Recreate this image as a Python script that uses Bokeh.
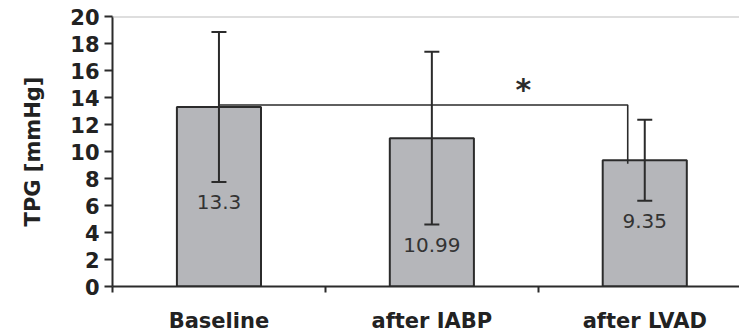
from bokeh.plotting import figure
from bokeh.models import ColumnDataSource, FixedTicker, Span, Range1d
from bokeh.core.properties import value
from bokeh.embed import file_html
from bokeh.resources import INLINE

# TPG per phase: mean and standard deviation
categories = ["Baseline", "after IABP", "after LVAD"]
means = [13.3, 10.99, 9.35]
sd = [5.55, 6.4, 3.0]
mean_labels = ["13.3", "10.99", "9.35"]
y_ticks = [0, 2, 4, 6, 8, 10, 12, 14, 16, 18, 20]

# significance bracket between Baseline and after LVAD
sig_from = 0
sig_to = 2
sig_level = 13.45
sig_drop = 9.1

DARK = "#2b2b2b"
BAR = "#b5b6ba"
FONT = "DejaVu Sans"

xs = list(range(len(categories)))
src = ColumnDataSource(dict(
    x=xs,
    top=means,
    upper=[m + s for m, s in zip(means, sd)],
    lower=[m - s for m, s in zip(means, sd)],
    lab=mean_labels,
))

p = figure(width=739, height=335, output_backend="svg", toolbar_location=None,
           x_range=Range1d(-0.5, 2.445), y_range=Range1d(0, 20))
p.min_border_left = 112
p.min_border_right = 0
p.min_border_top = 16
p.min_border_bottom = 39
p.outline_line_color = None
p.grid.grid_line_color = None
p.background_fill_color = "white"
p.border_fill_color = "white"

p.vbar(x="x", top="top", width=0.395, source=src, fill_color=BAR,
       line_color=DARK, line_width=2)

# error bars: stems and caps
p.segment(x0="x", y0="lower", x1="x", y1="upper", source=src,
          line_color=DARK, line_width=2)
p.scatter(x="x", y="upper", source=src, marker="dash", size=15,
          line_color=DARK, line_width=2)
p.scatter(x="x", y="lower", source=src, marker="dash", size=15,
          line_color=DARK, line_width=2)

p.text(x="x", y="lower", text="lab", source=src, text_align="center",
       text_baseline="top", y_offset=13, text_font=value(FONT),
       text_font_size="20px", text_color="#333333")

# bracket and asterisk
bx = sig_from
ex = sig_to - 0.08
p.line([bx, ex, ex], [sig_level, sig_level, sig_drop], line_color=DARK,
       line_width=1.6)
p.text(x=[(sig_from + sig_to) / 2 + 0.43], y=[sig_level], text=["*"],
       text_align="center", text_baseline="bottom", y_offset=2,
       text_font=value(FONT), text_font_size="30px", text_font_style="bold",
       text_color=DARK)

# top border line
p.add_layout(Span(location=20, dimension="width", line_color="#bdbdbd",
                  line_width=2))

# y axis
p.yaxis.ticker = FixedTicker(ticks=y_ticks)
p.yaxis.axis_line_color = DARK
p.yaxis.axis_line_width = 2
p.yaxis.major_tick_line_color = DARK
p.yaxis.major_tick_line_width = 2
p.yaxis.major_tick_out = 8
p.yaxis.major_tick_in = 0
p.yaxis.minor_tick_line_color = None
p.yaxis.major_label_standoff = 5
p.yaxis.major_label_text_font = FONT
p.yaxis.major_label_text_font_style = "bold"
p.yaxis.major_label_text_font_size = "21px"
p.yaxis.major_label_text_color = "#222222"
p.yaxis.axis_label = "TPG [mmHg]"
p.yaxis.axis_label_text_font = FONT
p.yaxis.axis_label_text_font_style = "bold"
p.yaxis.axis_label_text_font_size = "21px"
p.yaxis.axis_label_text_color = "#222222"
p.yaxis.axis_label_standoff = 22

# x axis: labels at bar centres, ticks on category boundaries
p.xaxis.ticker = FixedTicker(ticks=xs, minor_ticks=[-0.5, 0.5, 1.5])
p.xaxis.major_label_overrides = {i: c for i, c in zip(xs, categories)}
p.xaxis.axis_line_color = DARK
p.xaxis.axis_line_width = 2
p.xaxis.major_tick_line_color = None
p.xaxis.minor_tick_line_color = DARK
p.xaxis.minor_tick_line_width = 2
p.xaxis.minor_tick_out = 6
p.xaxis.minor_tick_in = 0
p.xaxis.major_label_standoff = 16
p.xaxis.major_label_text_font = FONT
p.xaxis.major_label_text_font_style = "bold"
p.xaxis.major_label_text_font_size = "21px"
p.xaxis.major_label_text_color = "#222222"

open("out.html", "w").write(file_html(p, INLINE))
